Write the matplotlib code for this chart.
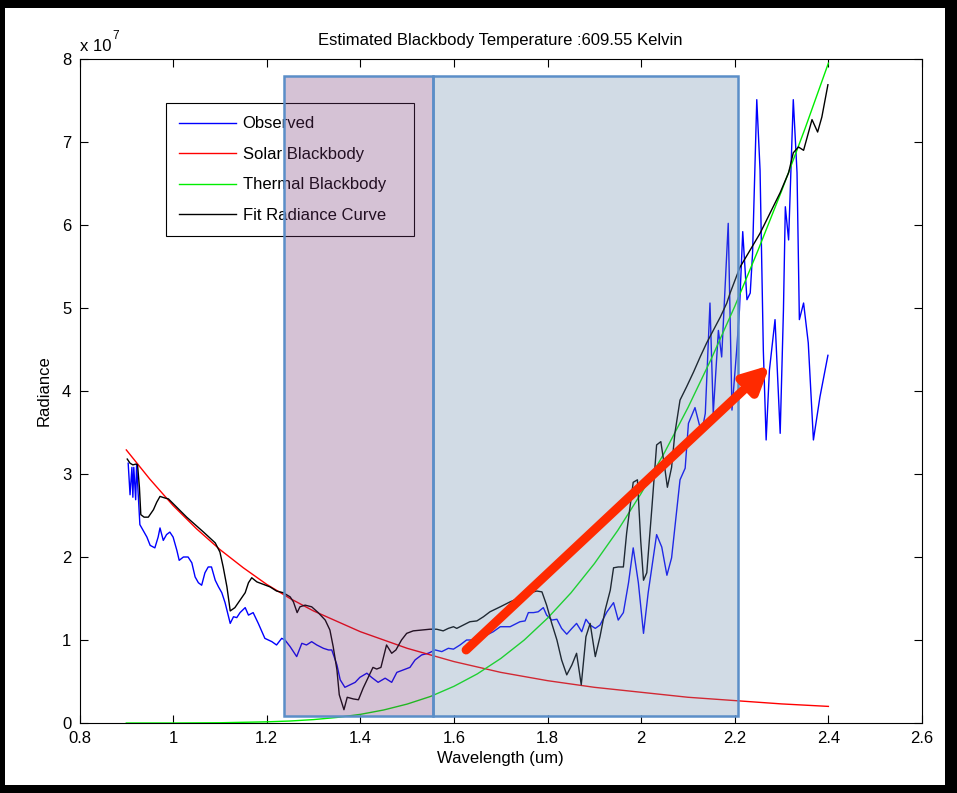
import matplotlib
matplotlib.use("Agg")
import matplotlib.pyplot as plt
from matplotlib.patches import Rectangle
import matplotlib.patheffects as pe

plt.rcParams['font.family'] = ['Liberation Sans', 'DejaVu Sans']

# ---------------- data (radiance in units of 1e7) ----------------
obs_wl = [0.904, 0.908, 0.912, 0.914, 0.916, 0.920, 0.922, 0.929, 0.935, 0.944, 0.951, 0.961,
          0.968, 0.972, 0.979, 0.986, 0.993, 1.000, 1.008, 1.013, 1.022, 1.032, 1.040, 1.047,
          1.054, 1.061, 1.068, 1.075, 1.082, 1.090, 1.097, 1.104, 1.111, 1.122, 1.129, 1.136,
          1.143, 1.154, 1.161, 1.171, 1.182, 1.196, 1.211, 1.221, 1.232, 1.239, 1.250, 1.264,
          1.275, 1.285, 1.296, 1.307, 1.321, 1.332, 1.339, 1.350, 1.357, 1.367, 1.378, 1.389,
          1.399, 1.414, 1.424, 1.438, 1.453, 1.467, 1.478, 1.492, 1.506, 1.517, 1.531, 1.545,
          1.560, 1.574, 1.588, 1.599, 1.613, 1.627, 1.641, 1.656, 1.670, 1.684, 1.699, 1.720,
          1.741, 1.752, 1.759, 1.770, 1.780, 1.791, 1.798, 1.809, 1.820, 1.830, 1.841, 1.852,
          1.862, 1.873, 1.882, 1.891, 1.902, 1.912, 1.927, 1.941, 1.951, 1.962, 1.973, 1.983,
          1.994, 2.005, 2.015, 2.033, 2.044, 2.055, 2.065, 2.083, 2.094, 2.101, 2.115, 2.129,
          2.137, 2.147, 2.154, 2.165, 2.172, 2.186, 2.194, 2.204, 2.210, 2.217, 2.226, 2.233,
          2.238, 2.247, 2.254, 2.261, 2.267, 2.274, 2.286, 2.297, 2.304, 2.308, 2.315, 2.325,
          2.333, 2.338, 2.347, 2.357, 2.368, 2.382, 2.399]
obs_rad = [3.13, 2.75, 3.08, 2.72, 3.08, 2.69, 3.11, 2.39, 2.33, 2.24, 2.14, 2.11,
           2.24, 2.35, 2.20, 2.27, 2.30, 2.24, 2.08, 1.96, 2.00, 2.00, 1.93, 1.76,
           1.69, 1.66, 1.81, 1.88, 1.88, 1.72, 1.64, 1.57, 1.45, 1.20, 1.28, 1.27,
           1.33, 1.39, 1.30, 1.33, 1.20, 1.02, 0.98, 0.94, 1.02, 1.00, 0.92, 0.80,
           0.96, 0.94, 0.98, 0.94, 0.90, 0.88, 0.88, 0.70, 0.52, 0.43, 0.46, 0.49,
           0.55, 0.60, 0.55, 0.49, 0.54, 0.49, 0.61, 0.64, 0.67, 0.76, 0.82, 0.84,
           0.88, 0.86, 0.90, 0.89, 0.94, 1.00, 1.00, 1.04, 1.06, 1.10, 1.16, 1.16,
           1.22, 1.23, 1.33, 1.33, 1.34, 1.39, 1.30, 1.24, 1.25, 1.14, 1.07, 1.14,
           1.20, 1.10, 1.25, 1.18, 1.14, 1.18, 1.34, 1.45, 1.24, 1.33, 1.69, 2.11,
           1.69, 1.08, 1.57, 2.27, 2.12, 1.78, 1.99, 2.93, 3.07, 3.61, 3.80, 3.49,
           3.73, 5.06, 3.73, 4.73, 4.41, 6.02, 3.77, 4.49, 4.98, 5.92, 5.10, 5.18,
           5.66, 7.51, 6.66, 4.49, 3.41, 4.25, 4.86, 3.49, 4.98, 6.22, 5.82, 7.51,
           6.63, 4.86, 5.06, 4.58, 3.41, 3.93, 4.43]

fit_wl = [0.902, 0.908, 0.914, 0.921, 0.924, 0.928, 0.931, 0.938, 0.947, 0.958, 0.965, 0.972,
          0.983, 0.990, 1.029, 1.065, 1.090, 1.100, 1.107, 1.115, 1.122, 1.132, 1.143, 1.154,
          1.161, 1.168, 1.179, 1.193, 1.207, 1.221, 1.235, 1.250, 1.257, 1.265, 1.271, 1.282,
          1.296, 1.310, 1.325, 1.335, 1.342, 1.350, 1.355, 1.365, 1.372, 1.385, 1.396, 1.406,
          1.417, 1.427, 1.435, 1.444, 1.456, 1.467, 1.476, 1.488, 1.499, 1.513, 1.531, 1.549,
          1.563, 1.577, 1.588, 1.599, 1.606, 1.620, 1.634, 1.649, 1.663, 1.677, 1.699, 1.720,
          1.741, 1.763, 1.777, 1.788, 1.798, 1.809, 1.820, 1.830, 1.841, 1.852, 1.862, 1.872,
          1.882, 1.891, 1.902, 1.912, 1.923, 1.934, 1.941, 1.951, 1.962, 1.969, 1.983, 1.992,
          1.999, 2.005, 2.012, 2.023, 2.033, 2.042, 2.051, 2.056, 2.065, 2.072, 2.083, 2.097,
          2.112, 2.126, 2.140, 2.154, 2.169, 2.183, 2.190, 2.211, 2.233, 2.254, 2.275, 2.297,
          2.315, 2.325, 2.336, 2.347, 2.365, 2.377, 2.386, 2.399]
fit_rad = [3.18, 3.13, 3.11, 3.12, 3.11, 2.84, 2.51, 2.48, 2.48, 2.57, 2.66, 2.73,
           2.71, 2.70, 2.48, 2.30, 2.17, 2.06, 1.88, 1.64, 1.35, 1.39, 1.48, 1.57,
           1.69, 1.75, 1.70, 1.67, 1.64, 1.59, 1.57, 1.52, 1.46, 1.33, 1.40, 1.42,
           1.40, 1.33, 1.24, 1.12, 0.92, 0.64, 0.34, 0.16, 0.31, 0.29, 0.28, 0.42,
           0.55, 0.67, 0.65, 0.67, 0.94, 0.84, 0.88, 1.00, 1.08, 1.11, 1.12, 1.13,
           1.13, 1.11, 1.14, 1.16, 1.14, 1.18, 1.22, 1.23, 1.28, 1.34, 1.40, 1.46,
           1.51, 1.57, 1.59, 1.58, 1.42, 1.20, 1.00, 0.76, 0.58, 0.70, 0.84, 0.46,
           1.04, 1.20, 0.80, 1.04, 1.36, 1.60, 1.87, 1.88, 1.88, 2.29, 2.90, 2.93,
           2.20, 1.72, 1.81, 2.60, 3.35, 3.39, 3.05, 2.84, 3.08, 3.49, 3.89, 4.05,
           4.23, 4.41, 4.58, 4.73, 4.89, 5.06, 5.18, 5.49, 5.70, 5.90, 6.14, 6.39,
           6.63, 6.87, 6.94, 6.90, 7.27, 7.12, 7.30, 7.69]

solar_wl = [0.90, 0.95, 1.00, 1.05, 1.10, 1.15, 1.20, 1.25, 1.30, 1.40, 1.50, 1.60,
            1.70, 1.80, 1.90, 2.00, 2.10, 2.20, 2.30, 2.40]
solar_rad = [3.29, 2.94, 2.62, 2.34, 2.09, 1.87, 1.67, 1.50, 1.35, 1.10, 0.90, 0.74,
             0.61, 0.51, 0.43, 0.37, 0.31, 0.27, 0.23, 0.20]

thermal_wl = [0.90, 1.00, 1.10, 1.20, 1.25, 1.30, 1.35, 1.40, 1.45, 1.50, 1.55, 1.60,
              1.65, 1.70, 1.75, 1.80, 1.85, 1.90, 1.95, 2.00, 2.05, 2.10, 2.15, 2.20,
              2.25, 2.30, 2.35, 2.40]
thermal_rad = [0.00, 0.00, 0.003, 0.014, 0.024, 0.041, 0.067, 0.104, 0.157, 0.228, 0.32, 0.442,
               0.592, 0.777, 0.999, 1.263, 1.568, 1.92, 2.32, 2.767, 3.26, 3.80, 4.39, 5.02,
               5.70, 6.41, 7.16, 7.95]

# shaded regions (wavelength spans, radiance span)
region1 = (1.237, 1.555)
region2 = (1.555, 2.207)
region_rad = (0.084, 7.795)
arrow_start = (1.626, 0.88)
arrow_end = (2.275, 4.31)

title = "Estimated Blackbody Temperature :609.55 Kelvin"
xticks = [0.8, 1.0, 1.2, 1.4, 1.6, 1.8, 2.0, 2.2, 2.4, 2.6]
yticks = [0, 1, 2, 3, 4, 5, 6, 7, 8]

# ---------------- figure ----------------
W, H = 957, 793
FS = 12
fig = plt.figure(figsize=(W / 100, H / 100), dpi=100, facecolor='black')
# white figure panel inside black border
fig.patches.append(Rectangle((5 / W, 8 / H), (W - 17) / W, (H - 16) / H,
                             transform=fig.transFigure, facecolor='white',
                             edgecolor='none', zorder=-10))

ax = fig.add_axes([79.5 / W, (H - 723) / H, (922 - 79.5) / W, (723 - 59) / H])
ax.set_zorder(1)
ax.set_facecolor('white')

ax.plot(obs_wl, obs_rad, color='#0000ff', lw=1.0, label='Observed', zorder=3)
ax.plot(solar_wl, solar_rad, color='#ff0000', lw=1.0, label='Solar Blackbody', zorder=3)
ax.plot(thermal_wl, thermal_rad, color='#00ee00', lw=1.0, label='Thermal Blackbody', zorder=3)
ax.plot(fit_wl, fit_rad, color='black', lw=1.0, label='Fit Radiance Curve', zorder=3)

ax.set_xlim(0.8, 2.6)
ax.set_ylim(0, 8)
ax.set_xticks(xticks)
ax.set_xticklabels([f"{t:g}" for t in xticks])
ax.set_yticks(yticks)
ax.set_yticklabels([str(t) for t in yticks])
ax.tick_params(direction='in', length=6, width=0.8, top=True, right=True,
               labelsize=FS, colors='black', pad=6)
for s in ax.spines.values():
    s.set_linewidth(0.8)
    s.set_color('black')

ax.set_title(title, fontsize=FS, pad=10)
ax.set_xlabel("Wavelength (um)", fontsize=FS, labelpad=3)
ax.set_ylabel("Radiance", fontsize=FS, labelpad=7)

ax.text(0.0, 1.007, "x 10", transform=ax.transAxes, fontsize=FS, ha='left', va='bottom')
ax.text(0.039, 1.026, "7", transform=ax.transAxes, fontsize=8.5, ha='left', va='bottom')

leg_w = (414 - 166) / (922 - 79.5)
leg_top = (723 - 103) / (723 - 59)
leg = ax.legend(loc='upper left', bbox_to_anchor=(0.1027, leg_top - 0.3, leg_w, 0.3),
                mode='expand', fontsize=FS,
                frameon=True, fancybox=False, edgecolor='black', framealpha=1,
                handlelength=3.4, handletextpad=0.4, labelspacing=0.93, borderpad=0.8,
                borderaxespad=0.0)
leg.get_frame().set_linewidth(0.8)
leg.set_zorder(5)

# translucent highlighted regions (drawn above legend)
ax.add_patch(Rectangle((region1[0], region_rad[0]), region1[1] - region1[0],
                       region_rad[1] - region_rad[0],
                       facecolor=(118 / 255, 55 / 255, 118 / 255, 0.30),
                       edgecolor='#5b8ec8', lw=1.8, zorder=6))
ax.add_patch(Rectangle((region2[0], region_rad[0]), region2[1] - region2[0],
                       region_rad[1] - region_rad[0],
                       facecolor=(105 / 255, 138 / 255, 172 / 255, 0.30),
                       edgecolor='#5b8ec8', lw=1.8, zorder=6))

ann = ax.annotate('', xy=arrow_end, xytext=arrow_start,
                  arrowprops=dict(arrowstyle='-|>', lw=6.5, color='#ff2a00',
                                  mutation_scale=38, shrinkA=0, shrinkB=0),
                  zorder=7)
ann.arrow_patch.set_path_effects([pe.SimplePatchShadow(offset=(2, -2), alpha=0.25),
                                  pe.Normal()])

fig.savefig('out.png', dpi=100, facecolor=fig.get_facecolor())
